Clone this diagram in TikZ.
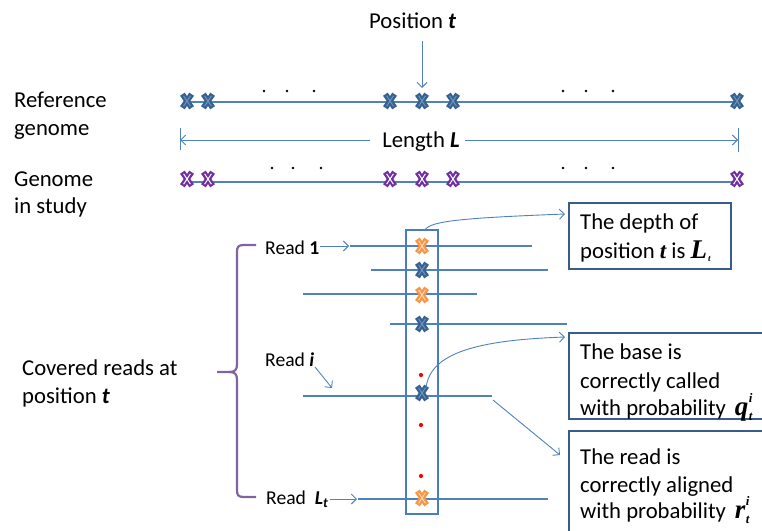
\documentclass[tikz,border=0pt]{standalone}
\usepackage{fontspec}
\setmainfont{Carlito}
\newfontfamily\tms{Liberation Serif}
\usetikzlibrary{arrows.meta}
\definecolor{lblue}{HTML}{4F81BD}
\definecolor{colblue}{HTML}{4A7EBB}
\definecolor{boxblue}{HTML}{385D8A}
\definecolor{xblue}{HTML}{37618F}
\definecolor{xblueL}{HTML}{6F93C2}
\definecolor{xpurp}{HTML}{7030A0}
\definecolor{xorange}{HTML}{F79646}
\definecolor{xorangeL}{HTML}{FCD5B5}
\definecolor{bracepurp}{HTML}{8064A2}
\newcommand\mysubsup[3]{#1\kern0.5pt\rlap{\raisebox{13pt}{\fontsize{13}{13}\selectfont #3}}\raisebox{-5pt}{\fontsize{13}{13}\selectfont #2}}
\tikzset{
  lab/.style={inner sep=0pt, anchor=base west, font=\fontsize{22.7}{27}\selectfont},
  rlab/.style={inner sep=0pt, anchor=base west, font=\fontsize{19.6}{23}\selectfont},
  gline/.style={draw=lblue, line width=1.5pt},
  rline/.style={draw=lblue, line width=1.3pt},
  arr/.style={draw=lblue, line width=0.9pt, -{Straight Barb[length=5pt,width=10pt,line width=0.9pt]}},
  boxst/.style={draw=boxblue, line width=2.4pt, inner sep=0pt},
  bdot/.style={fill=black, draw=none, circle, inner sep=0pt, minimum size=2.6pt},
  rdot/.style={fill=red, draw=none, circle, inner sep=0pt, minimum size=4.2pt},
  pics/xm/.style 2 args={code={
    \draw[line width=5.6pt,#1] (-4.6,-6.8) -- (4.6,6.8) (-4.6,6.8) -- (4.6,-6.8);
    \draw[line width=1pt,#2] (-3.4,-5.2) -- (3.4,5.2) (-3.4,5.2) -- (3.4,-5.2);
  }}
}
\begin{document}
\begin{tikzpicture}[x=1pt,y=-1pt]
\useasboundingbox (0,0) rectangle (762,530);

% ---- top labels
\node[lab] (pos) at (369,28) {Position \textbf{\textit{t}}};
\coordinate (posA) at (422,41);
\coordinate (posB) at (422,88);
\draw[arr] (posA) -- (posB);

\node[lab] (ref1) at (14,107) {Reference};
\node[lab] (ref2) at (14,135) {genome};
\node[lab] (gen1) at (14,186) {Genome};
\node[lab] (gen2) at (14,213) {in study};

% ---- reference genome
\coordinate (refL) at (187,102);
\coordinate (refR) at (737,102);
\draw[gline] (refL) -- (refR);
\foreach \x in {187,208,390,422,453,737}
  \pic at (\x,101) {xm={xblue}{xblueL}};
\foreach \x in {264,287,314,563,586,613}
  \node[bdot] at (\x,91) {};

% ---- length L
\node[lab, anchor=base] (len) at (421,147) {Length \textbf{\textit{L}}};
\coordinate (lenLbar) at (180,140);
\coordinate (lenRbar) at (738,140);
\draw[lblue, line width=0.9pt] (180,128) -- (180,150) (738,128) -- (738,152);
\draw[arr] (370,140) -- (lenLbar);
\draw[arr] (465,140) -- (lenRbar);

% ---- genome in study
\coordinate (genL) at (187,182);
\coordinate (genR) at (737,182);
\draw[gline] (genL) -- (genR);
\foreach \x in {187,208,390,422,453,737}
  \pic at (\x,179) {xm={xpurp}{white}};
\foreach \x in {272,293,321,563,586,613}
  \node[bdot] at (\x,168) {};

% ---- reads
\draw[rline] (350,246) -- (532,246);
\draw[rline] (371,270) -- (548,270);
\draw[rline] (303,294) -- (477,294);
\draw[rline] (390,324) -- (567,324);
\coordinate (readiE) at (492,396);
\draw[rline] (303,396) -- (readiE);
\draw[rline] (358,499) -- (548,499);

% ---- column
\node[draw=colblue, line width=1.5pt, inner sep=0pt, minimum width=32pt, minimum height=284pt] (col) at (422,372) {};

\pic at (422,246) {xm={xorange}{xorangeL}};
\pic at (422,270) {xm={xblue}{xblueL}};
\pic at (422,295) {xm={xorange}{xorangeL}};
\pic at (422,324) {xm={xblue}{xblueL}};
\pic at (422,393) {xm={xblue}{xblueL}};
\pic at (422,498) {xm={xorange}{xorangeL}};
\foreach \y in {375,425,476}
  \node[rdot] at (421,\y) {};

% ---- read labels
\node[rlab] (r1) at (265,254) {Read \textbf{1}};
\node[rlab] (ri) at (265,366) {Read \textbf{\textit{i}}};
\node[rlab] (rL) at (266,504) {Read\ \ \textbf{\textit{L\textsubscript{t}}}};
\coordinate (r1a) at (320,246); \coordinate (r1b) at (349,246);
\coordinate (ria) at (315,367); \coordinate (rib) at (332,388);
\coordinate (rLa) at (330,499); \coordinate (rLb) at (357,499);
\draw[arr] (r1a) -- (r1b);
\draw[arr] (ria) -- (rib);
\draw[arr] (rLa) -- (rLb);

% ---- brace
\draw[bracepurp, line width=2.2pt]
  (256,245) -- (244,245) .. controls (238,245) and (237,247) .. (237,252) -- (237,364)
  .. controls (237,370) and (235,372) .. (229,372) -- (217,372);
\draw[bracepurp, line width=2.2pt]
  (229,372) .. controls (235,372) and (237,374) .. (237,380) -- (237,490)
  .. controls (237,495) and (238,497) .. (244,497) -- (256,497);
\node[lab] (cov1) at (22,375) {Covered reads at};
\node[lab] (cov2) at (22,403) {position \textbf{\textit{t}}};

% ---- right boxes
\node[boxst, minimum width=162pt, minimum height=66pt] (box1) at (650,236) {};
\node[boxst, minimum width=206pt, minimum height=86pt] (box2) at (672,376) {};
\node[boxst, minimum width=206pt, minimum height=110pt] (box3) at (672,486) {};

\node[lab] (b1a) at (580,229) {The depth of};
\node[lab] (b1b) at (580,258) {position {\tms\bfseries\itshape t} is {\tms\bfseries\itshape\fontsize{27}{27}\selectfont L\kern1pt\raisebox{-3pt}{\fontsize{9}{9}\selectfont t}}};
\node[lab] (b2a) at (580,359) {The base is};
\node[lab] (b2b) at (580,388) {correctly called};
\node[lab] (b2c) at (580,415) {with probability \,{\tms\bfseries\itshape\fontsize{27}{27}\selectfont\mysubsup{q}{t}{i}}};
\node[lab] (b3a) at (580,464) {The read is};
\node[lab] (b3b) at (580,492) {correctly aligned};
\node[lab] (b3c) at (580,518) {with probability \,{\tms\bfseries\itshape\fontsize{27}{27}\selectfont\mysubsup{r}{t}{i}}};

% ---- connectors to boxes
\coordinate (c1s) at (425,230);
\coordinate (c1e) at (565,214);
\draw[arr] (c1s) .. controls (430,221) and (462,218) .. (c1e);
\coordinate (c2s) at (426,388);
\coordinate (c2e) at (565,337);
\draw[arr] (c2s) .. controls (430,352) and (480,340) .. (c2e);
\coordinate (c3e) at (560,455);
\draw[arr] (readiE) ++(1,4) coordinate (c3s) (c3s) -- (c3e);
\end{tikzpicture}
\end{document}
